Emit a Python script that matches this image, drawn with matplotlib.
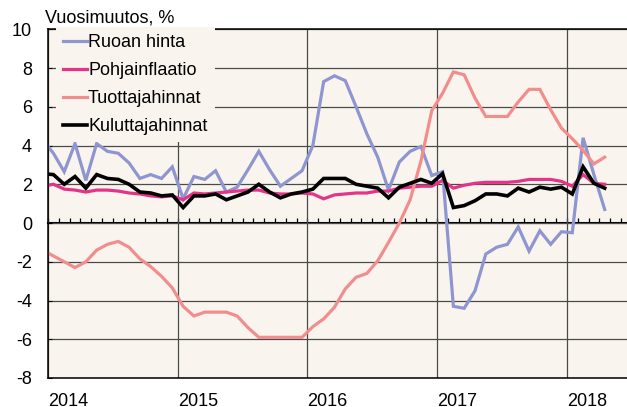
"""
Ruoan hinta, inflaatio ja tuottajahinnat 2014-2018, vuosimuutos %
"""

import numpy as np
import matplotlib.pyplot as plt

plt.rcParams['font.family'] = ['Liberation Sans', 'DejaVu Sans']
plt.rcParams['axes.unicode_minus'] = False

years = ['2014', '2015', '2016', '2017', '2018']
labels = ['Ruoan hinta', 'Pohjainflaatio', 'Tuottajahinnat', 'Kuluttajahinnat']
colors = ['#8e95d0', '#e5338a', '#f28d8d', '#000000']

# monthly values, Dec 2013 .. Apr 2018
ruoan_hinta = [4.3,
               3.6, 2.65, 4.1, 2.2, 4.1, 3.7, 3.6, 3.1, 2.3, 2.5, 2.3, 2.9,
               1.25, 2.4, 2.25, 2.7, 1.6, 1.85, 2.75, 3.7, 2.75, 1.9, 2.3, 2.7,
               4.0, 7.3, 7.6, 7.35, 6.0, 4.6, 3.4, 1.7, 3.15, 3.7, 3.95, 2.45,
               2.65, -4.3, -4.4, -3.5, -1.6, -1.25, -1.1, -0.2, -1.45, -0.4, -1.1, -0.45,
               -0.5, 4.4, 2.5, 0.7]
pohjainflaatio = [1.9,
                  2.0, 1.75, 1.7, 1.6, 1.7, 1.7, 1.65, 1.55, 1.5, 1.4, 1.35, 1.4,
                  1.2, 1.55, 1.5, 1.55, 1.6, 1.65, 1.7, 1.7, 1.55, 1.5, 1.5, 1.55,
                  1.5, 1.25, 1.45, 1.5, 1.55, 1.55, 1.65, 1.65, 1.8, 1.85, 1.9, 1.9,
                  2.2, 1.8, 1.95, 2.05, 2.1, 2.1, 2.1, 2.15, 2.25, 2.25, 2.25, 2.15,
                  1.9, 2.5, 2.05, 2.0]
tuottajahinnat = [-1.4,
                  -1.7, -2.0, -2.3, -2.0, -1.4, -1.1, -0.95, -1.25, -1.85, -2.25, -2.75, -3.35,
                  -4.3, -4.8, -4.6, -4.6, -4.6, -4.8, -5.4, -5.9, -5.9, -5.9, -5.9, -5.9,
                  -5.35, -4.95, -4.35, -3.4, -2.8, -2.6, -1.95, -1.0, 0.0, 1.2, 3.2, 5.8,
                  6.7, 7.8, 7.65, 6.45, 5.5, 5.5, 5.5, 6.25, 6.9, 6.9, 5.85, 4.9,
                  4.35, 3.75, 3.05, 3.4]
kuluttajahinnat = [2.55,
                   2.5, 2.0, 2.4, 1.8, 2.5, 2.3, 2.25, 2.0, 1.6, 1.55, 1.4, 1.45,
                   0.8, 1.4, 1.4, 1.5, 1.2, 1.4, 1.6, 2.0, 1.6, 1.3, 1.5, 1.6,
                   1.75, 2.3, 2.3, 2.3, 2.0, 1.9, 1.8, 1.3, 1.85, 2.05, 2.25, 2.05,
                   2.55, 0.8, 0.9, 1.15, 1.5, 1.5, 1.4, 1.8, 1.6, 1.85, 1.75, 1.85,
                   1.5, 2.9, 2.05, 1.8]


def main():
    bg = '#f9f5ee'
    fs = 13
    series = [ruoan_hinta, pohjainflaatio, tuottajahinnat, kuluttajahinnat]
    # x in months from Jan 2014, points at mid-month
    x = np.arange(len(ruoan_hinta)) - 0.5

    fig = plt.figure(figsize=(6.27, 4.07), dpi=100)
    ax = fig.add_axes([48 / 627, 1 - 378 / 407, 1 - 48 / 627, (378 - 29.3) / 407])
    ax.set_facecolor(bg)

    for vals, lab, col in zip(series, labels, colors):
        lw = 2.6 if col == '#000000' else 2.3
        ax.plot(x, vals, color=col, lw=lw, label=lab, solid_joinstyle='miter')

    ax.set_xlim(0, (627 - 48) / 10.81)
    ax.set_ylim(-8, 10)
    ax.set_yticks(np.arange(-8, 11, 2))
    ax.set_xticks(np.arange(len(years)) * 12, years)
    for t in ax.get_xticklabels():
        t.set_horizontalalignment('left')

    ax.grid(True, color='#4a4a4a', lw=0.9)
    ax.set_axisbelow(True)
    ax.tick_params(axis='y', direction='in', length=3, pad=11.5, labelsize=fs)
    ax.tick_params(axis='x', length=0, pad=10.5, labelsize=fs)
    ax.spines['right'].set_visible(False)
    for s in ['top', 'left', 'bottom']:
        ax.spines[s].set_linewidth(1.1)

    # zero line with monthly ticks
    sec = ax.secondary_xaxis(8 / 18)
    sec.set_xticks(np.arange(0, 54))
    sec.tick_params(axis='x', direction='in', length=3.5, width=0.9, labelbottom=False)
    sec.spines['bottom'].set_linewidth(1.5)

    ax.legend(loc='upper left', bbox_to_anchor=(0.013, 1.006), frameon=True,
              facecolor=bg, edgecolor='none', framealpha=1, fancybox=False,
              fontsize=fs, handlelength=1.35, handletextpad=0.05, borderaxespad=0,
              labelspacing=0.6)

    fig.text(45 / 627, 1 - 18 / 407, 'Vuosimuutos, %', va='center', fontsize=fs)

    fig.savefig('out.png', dpi=100)


if __name__ == '__main__':
    main()
